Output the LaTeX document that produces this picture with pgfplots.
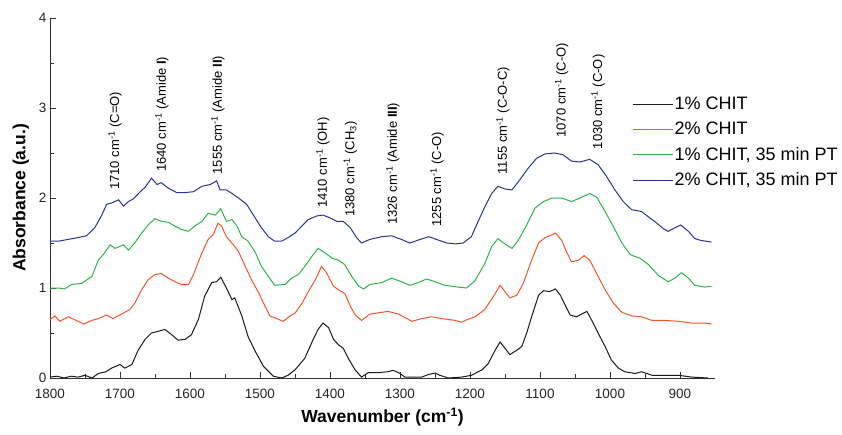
\documentclass[border=0pt]{standalone}
\usepackage{fontspec}
\setmainfont{Liberation Sans}
\usepackage{pgfplots}
\pgfplotsset{compat=1.18}
\definecolor{cblack}{HTML}{1A1A1A}
\definecolor{cred}{HTML}{F2542D}
\definecolor{cgreen}{HTML}{2DB34A}
\definecolor{cblue}{HTML}{2B3492}
\newcommand{\cm}{cm\textsuperscript{-1}}
\begin{document}
\begin{tikzpicture}
\begin{axis}[
  scale only axis, width=665pt, height=360pt,
  x dir=reverse, xmin=850, xmax=1800, ymin=0, ymax=4,
  axis x line=bottom, axis y line=left,
  axis line style={-, draw=black!80, line width=0.9pt},
  xtick={900,1000,...,1800}, ytick={0,1,2,3,4},
  minor x tick num=1, minor y tick num=1,
  tick align=inside,
  major tick length=6pt, minor tick length=4pt,
  tick style={draw=black!80, line width=0.8pt},
  /pgf/number format/assume math mode=true,
  /pgf/number format/1000 sep={},
  ticklabel style={font=\fontsize{13.5}{16}\selectfont, text=black!85},
  xticklabel style={yshift=-8pt},
  xlabel={\textbf{Wavenumber (\cm)}},
  ylabel={\textbf{Absorbance (a.u.)}},
  label style={font=\fontsize{17.5}{20}\selectfont},
  xlabel style={yshift=-2pt},
  ylabel style={yshift=3pt},
  legend style={at={(0.875,0.785)}, anchor=north west, draw=none, fill=none,
    font=\fontsize{18}{20}\selectfont, row sep=8pt, inner sep=0pt,
    nodes={inner sep=1.5pt}},
  legend cell align=left,
  legend image code/.code={\draw[#1] (0pt,0pt) -- (40pt,0pt);},
  every axis plot/.append style={line width=1pt},
]
\addplot[cblack] coordinates {
(1800,0.01) (1790,0.02) (1780,0.0) (1770,0.02) (1760,0.01) (1750,0.03) (1740,0.0) (1731,0.05) (1720,0.07) (1712,0.11) (1700,0.15) (1693,0.11) (1683,0.15) (1674,0.31) (1664,0.43) (1655,0.5) (1645,0.52) (1636,0.54) (1626,0.48) (1617,0.42) (1607,0.43) (1598,0.48) (1588,0.65) (1579,0.91) (1569,1.06) (1562,1.07) (1556,1.12) (1548,1.0) (1540,0.87) (1536,0.89) (1526,0.69) (1517,0.46) (1507,0.3) (1495,0.13) (1481,0.02) (1469,0) (1460,0.03) (1450,0.09) (1436,0.22) (1424,0.43) (1417,0.54) (1410,0.61) (1402,0.56) (1395,0.43) (1388,0.37) (1381,0.33) (1374,0.22) (1364,0.09) (1355,0.01) (1345,0.06) (1331,0.06) (1317,0.07) (1310,0.085) (1302,0.06) (1293,0.01) (1269,0.01) (1259,0.04) (1250,0.055) (1243,0.03) (1231,0) (1212,0.01) (1198,0.03) (1193,0.05) (1183,0.09) (1174,0.16) (1164,0.31) (1157,0.40) (1150,0.33) (1143,0.26) (1133,0.31) (1126,0.35) (1119,0.5) (1112,0.68) (1102,0.92) (1095,0.97) (1086,0.96) (1078,0.99) (1071,0.92) (1064,0.81) (1057,0.7) (1048,0.68) (1038,0.72) (1033,0.74) (1026,0.64) (1017,0.5) (1007,0.35) (998,0.2) (988,0.11) (979,0.07) (964,0.05) (955,0.07) (940,0.03) (921,0.03) (902,0.03) (883,0.01) (860,0.0)
};
\addlegendentry{1\% CHIT}
\addplot[cred] coordinates {
(1800,0.65) (1793,0.69) (1786,0.63) (1774,0.68) (1760,0.63) (1752,0.6) (1740,0.64) (1731,0.66) (1719,0.7) (1710,0.66) (1698,0.71) (1686,0.76) (1679,0.83) (1669,0.98) (1660,1.09) (1650,1.15) (1641,1.16) (1631,1.11) (1619,1.06) (1612,1.04) (1602,1.04) (1595,1.15) (1583,1.39) (1574,1.54) (1567,1.59) (1560,1.72) (1555,1.69) (1548,1.57) (1538,1.48) (1531,1.41) (1521,1.24) (1512,1.09) (1502,0.95) (1493,0.8) (1486,0.69) (1476,0.66) (1467,0.63) (1457,0.69) (1450,0.72) (1440,0.83) (1431,0.96) (1421,1.09) (1412,1.24) (1405,1.17) (1395,1.02) (1388,0.98) (1379,0.94) (1371,0.8) (1364,0.7) (1355,0.64) (1343,0.71) (1326,0.73) (1317,0.74) (1302,0.71) (1283,0.63) (1269,0.66) (1255,0.68) (1240,0.66) (1221,0.64) (1212,0.62) (1207,0.64) (1193,0.68) (1179,0.76) (1167,0.9) (1157,1.03) (1150,0.96) (1143,0.89) (1133,0.92) (1124,1.05) (1112,1.31) (1102,1.5) (1093,1.56) (1083,1.59) (1078,1.61) (1069,1.53) (1062,1.4) (1055,1.29) (1045,1.31) (1037,1.36) (1029,1.31) (1019,1.16) (1007,0.98) (995,0.83) (983,0.73) (969,0.69) (955,0.68) (940,0.64) (921,0.64) (902,0.63) (883,0.61) (864,0.61) (855,0.6)
};
\addlegendentry{2\% CHIT}
\addplot[cgreen] coordinates {
(1800,1.0) (1788,1.0) (1779,0.99) (1769,1.04) (1755,1.05) (1740,1.13) (1731,1.31) (1724,1.37) (1714,1.48) (1707,1.44) (1695,1.48) (1688,1.42) (1679,1.5) (1669,1.61) (1660,1.7) (1650,1.77) (1641,1.74) (1631,1.73) (1622,1.69) (1612,1.65) (1602,1.63) (1593,1.69) (1583,1.74) (1574,1.83) (1564,1.81) (1556,1.88) (1548,1.74) (1540,1.76) (1533,1.69) (1526,1.57) (1517,1.52) (1507,1.40) (1498,1.24) (1488,1.13) (1479,1.03) (1464,1.04) (1455,1.11) (1445,1.15) (1436,1.24) (1426,1.35) (1417,1.44) (1407,1.39) (1397,1.33) (1388,1.31) (1379,1.26) (1369,1.13) (1359,1.02) (1352,0.99) (1343,1.04) (1326,1.06) (1312,1.11) (1298,1.07) (1286,1.03) (1274,1.06) (1262,1.1) (1250,1.07) (1236,1.03) (1217,1.01) (1205,1.0) (1193,1.08) (1179,1.27) (1169,1.46) (1160,1.55) (1152,1.5) (1140,1.44) (1131,1.53) (1119,1.7) (1107,1.89) (1095,1.96) (1083,2.0) (1069,2.0) (1055,1.96) (1043,2.0) (1029,2.05) (1019,2.01) (1007,1.85) (995,1.68) (983,1.5) (971,1.37) (957,1.33) (945,1.26) (931,1.14) (917,1.07) (907,1.11) (898,1.17) (888,1.11) (879,1.03) (864,1.01) (855,1.02)
};
\addlegendentry{1\% CHIT, 35 min PT}
\addplot[cblue] coordinates {
(1800,1.52) (1788,1.52) (1774,1.54) (1760,1.56) (1748,1.58) (1736,1.67) (1726,1.81) (1719,1.93) (1710,1.95) (1702,1.98) (1695,1.91) (1688,1.96) (1681,1.99) (1671,2.07) (1664,2.12) (1655,2.22) (1647,2.15) (1641,2.17) (1631,2.11) (1619,2.06) (1607,2.06) (1595,2.07) (1583,2.13) (1571,2.15) (1562,2.19) (1557,2.09) (1548,2.09) (1538,2.04) (1529,1.99) (1519,1.93) (1507,1.78) (1498,1.67) (1488,1.57) (1479,1.52) (1469,1.52) (1460,1.56) (1450,1.61) (1440,1.69) (1431,1.76) (1419,1.8) (1410,1.81) (1400,1.78) (1390,1.74) (1381,1.74) (1371,1.67) (1362,1.56) (1355,1.5) (1343,1.54) (1326,1.57) (1312,1.58) (1298,1.54) (1286,1.5) (1271,1.54) (1259,1.57) (1248,1.54) (1233,1.5) (1221,1.49) (1210,1.5) (1198,1.57) (1193,1.66) (1179,1.9) (1169,2.05) (1160,2.13) (1150,2.1) (1140,2.09) (1129,2.2) (1117,2.33) (1105,2.44) (1093,2.49) (1079,2.5) (1067,2.48) (1055,2.41) (1043,2.4) (1029,2.43) (1017,2.37) (1005,2.24) (993,2.09) (981,1.96) (969,1.87) (955,1.85) (945,1.79) (933,1.72) (924,1.66) (917,1.63) (907,1.67) (899,1.7) (888,1.63) (879,1.55) (871,1.53) (855,1.51)
};
\addlegendentry{2\% CHIT, 35 min PT}
\begin{scope}[every node/.style={rotate=90, anchor=west, inner sep=0pt, font=\fontsize{13}{15}\selectfont}]
\node at (axis cs:1707,2.09) {1710 \cm{} (C=O)};
\node at (axis cs:1640,2.29) {1640 \cm{} (Amide \textbf{I})};
\node at (axis cs:1560,2.26) {1555 \cm{} (Amide \textbf{II})};
\node at (axis cs:1410,1.89) {1410 \cm{} (OH)};
\node at (axis cs:1371,1.79) {1380 \cm{} (CH\textsubscript{3})};
\node at (axis cs:1310,1.70) {1326 \cm{} (Amide \textbf{III})};
\node at (axis cs:1247,1.68) {1255 \cm{} (C-O)};
\node at (axis cs:1153,2.26) {1155 \cm{} (C-O-C)};
\node at (axis cs:1069,2.67) {1070 \cm{} (C-O)};
\node at (axis cs:1017,2.54) {1030 \cm{} (C-O)};
\end{scope}
\end{axis}
\pgfresetboundingbox
\useasboundingbox (-50pt,-56pt) rectangle (792pt,378pt);
\end{tikzpicture}
\end{document}
